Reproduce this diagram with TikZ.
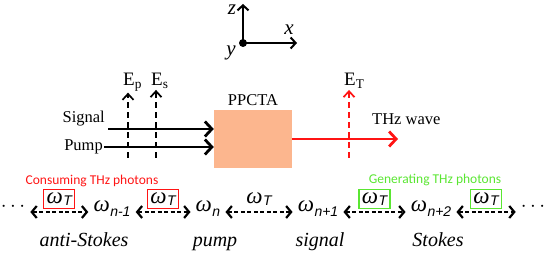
\documentclass[tikz,border=0pt]{standalone}
\usepackage{fontspec}
\setmainfont{Liberation Serif}
\setsansfont{Liberation Sans}
\newfontfamily\calibfont{Carlito}
\usetikzlibrary{arrows.meta,positioning}
\definecolor{crystal}{RGB}{252,182,142}
\definecolor{thzRed}{RGB}{255,20,20}
\definecolor{genGreen}{RGB}{90,230,50}
\newcommand{\om}[1]{{\fontsize{23}{23}\selectfont\textit{ω}}\kern0.5pt\raisebox{-0.45ex}{\fontsize{14}{14}\selectfont\sffamily\itshape #1}}

\begin{document}
\begin{tikzpicture}[x=1pt,y=-1pt,
    axis/.style={line width=2pt,-{Straight Barb[length=5pt,width=11pt]}},
    beam/.style={line width=2.8pt,-{Straight Barb[length=7pt,width=15pt]}},
    efield/.style={line width=1.7pt,dash pattern=on 6pt off 4pt,-{Straight Barb[length=6pt,width=11pt]}},
    hop/.style={line width=2.2pt,dash pattern=on 4pt off 2.5pt,{Straight Barb[length=5pt,width=12pt]}-{Straight Barb[length=5pt,width=12pt]}},
    axlbl/.style={font=\fontsize{21}{21}\selectfont\itshape,anchor=base,inner sep=0pt},
    lbl/.style={font=\fontsize{16.5}{17}\selectfont,inner sep=1pt},
    elbl/.style={font=\fontsize{19}{19}\selectfont,anchor=base west,inner sep=1pt},
    freq/.style={font=\fontsize{20}{20}\selectfont,anchor=base,inner xsep=5pt},
    wt/.style={solid,draw,line width=1.2pt,inner xsep=2.5pt,inner ysep=1pt,minimum width=31pt,minimum height=19pt,above=2.5pt},
    note/.style={font=\fontsize{13.5}{14}\selectfont\calibfont,inner sep=0pt},
    role/.style={font=\fontsize{20}{20}\selectfont\itshape,anchor=base}]
  \useasboundingbox (0,0) rectangle (546,256);

  \coordinate (o) at (243,43);
  \coordinate (zt) at (243,4);
  \coordinate (xt) at (297,43);
  \draw[axis] (o) -- (zt);
  \draw[axis] (o) -- (xt);
  \fill (o) circle (4);
  \node[axlbl] (zl) at (232,15) {z};
  \node[axlbl] (xl) at (289,35) {x};
  \node[axlbl] (yl) at (231,56) {y};

  \node[fill=crystal,minimum width=78pt,minimum height=58pt] (ppcta) at (253,139) {};
  \node[lbl,above=3pt of ppcta] (ppctalbl) {PPCTA};
  \node[lbl,anchor=east] (siglbl) at (106,119) {Signal};
  \node[lbl,anchor=east] (pmplbl) at (104,147) {Pump};
  \coordinate (sig) at (108,129);
  \draw[beam] (sig) -- (sig -| ppcta.west);
  \draw[beam] (pmplbl.east) -- (pmplbl.east -| ppcta.west);
  \coordinate (thz) at (398,139);
  \draw[beam,thzRed] (ppcta.east) -- (thz);
  \node[lbl,anchor=west] (thzlbl) at (371,119) {THz wave};

  \node[elbl] (ep) at (122,86) {E\textsubscript{p}};
  \node[elbl] (es) at (150,86) {E\textsubscript{s}};
  \node[elbl] (et) at (343,86) {E\textsubscript{T}};
  \coordinate (epb) at (128,158);
  \coordinate (esb) at (156,158);
  \coordinate (etb) at (349,158);
  \draw[efield] (epb) -- (epb |- ep.south);
  \draw[efield] (esb) -- (esb |- es.south);
  \draw[efield,thzRed] (etb) -- (etb |- et.south);

  \node[freq] (dl) at (13,212) {$\cdots$};
  \node[freq] (wa) at (112,212) {\om{n-1}};
  \node[freq] (wb) at (208,212) {\om{n}};
  \node[freq] (wc) at (318,212) {\om{n+1}};
  \node[freq] (wd) at (431,212) {\om{n+2}};
  \node[freq] (dr) at (533,212) {$\cdots$};
  \draw[hop] (dl.base east) -- (wa.base west) node[wt,midway,draw=thzRed] (t1) {\om{T}};
  \draw[hop] (wa.base east) -- (wb.base west) node[wt,midway,draw=thzRed] (t2) {\om{T}};
  \draw[hop] (wb.base east) -- (wc.base west) node[wt,midway,draw=none] (t3) {\om{T}};
  \draw[hop] (wc.base east) -- (wd.base west) node[wt,midway,draw=genGreen] (t4) {\om{T}};
  \draw[hop] (wd.base east) -- (dr.base west) node[wt,midway,draw=genGreen] (t5) {\om{T}};
  \node[note,text=thzRed] (cons) at (92,181) {Consuming THz photons};
  \node[note,text=genGreen] (gen) at (435,180) {Generating THz photons};

  \node[role] (as) at (84,247) {anti-Stokes};
  \node[role] (pu) at (215,247) {pump};
  \node[role] (si) at (320,247) {signal};
  \node[role] (st) at (438,247) {Stokes};
\end{tikzpicture}
\end{document}
